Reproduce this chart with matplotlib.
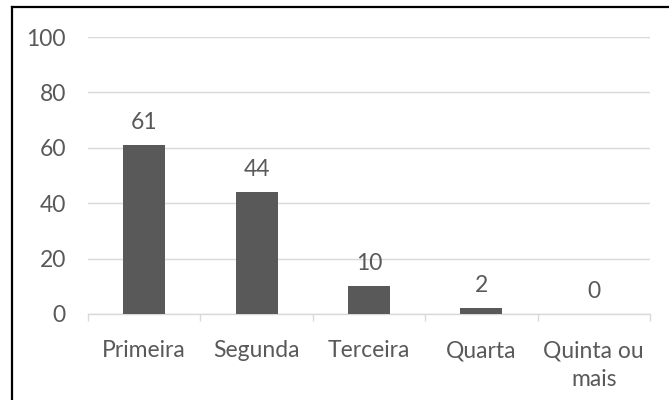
import matplotlib
matplotlib.use("Agg")
import matplotlib.pyplot as plt
from matplotlib.lines import Line2D

categories = ["Primeira", "Segunda", "Terceira", "Quarta", "Quinta ou\nmais"]
values = [61, 44, 10, 2, 0]
yticks = [0, 20, 40, 60, 80, 100]

plt.rcParams["font.family"] = ["Lato", "DejaVu Sans"]
text_color = "#595959"
grid_color = "#d9d9d9"
bar_color = "#595959"
fs = 16.5

fig = plt.figure(figsize=(6.69, 4.0), dpi=100)
ax = fig.add_axes([88 / 669, 1 - 314 / 400, (650 - 88) / 669, (314 - 37) / 400])

x = list(range(len(categories)))
ax.bar(x, values, width=0.375, color=bar_color, zorder=3)

for xi, v in zip(x, values):
    ax.annotate(str(v), (xi, v), xytext=(0, 9), textcoords="offset points",
                ha="center", va="bottom", fontsize=fs, color=text_color)

ax.set_xlim(-0.5, len(categories) - 0.5)
ax.set_ylim(0, 100)
ax.set_yticks(yticks)
ax.set_yticklabels([str(t) for t in yticks], fontsize=fs, color=text_color)
ax.yaxis.grid(True, color=grid_color, linewidth=1.0, zorder=0)
ax.tick_params(axis="y", length=0, pad=16)

ax.set_xticks(x)
ax.set_xticklabels(categories, fontsize=fs, color=text_color, linespacing=1.45)
ax.tick_params(axis="x", length=0, pad=19)
ax.set_xticks([i - 0.5 for i in range(len(categories) + 1)], minor=True)
ax.tick_params(axis="x", which="minor", length=5, color=grid_color, width=1.0)

for side in ["top", "right", "left"]:
    ax.spines[side].set_visible(False)
ax.spines["bottom"].set_color(grid_color)
ax.spines["bottom"].set_linewidth(1.0)

# chart frame: left and top edges
fx = 11.5 / 669
fy = 1 - 7 / 400
fig.add_artist(Line2D([fx, fx], [0, fy], transform=fig.transFigure, color="black", linewidth=1.6))
fig.add_artist(Line2D([fx, 1], [fy, fy], transform=fig.transFigure, color="black", linewidth=1.6))

fig.savefig("out.png", dpi=100)
